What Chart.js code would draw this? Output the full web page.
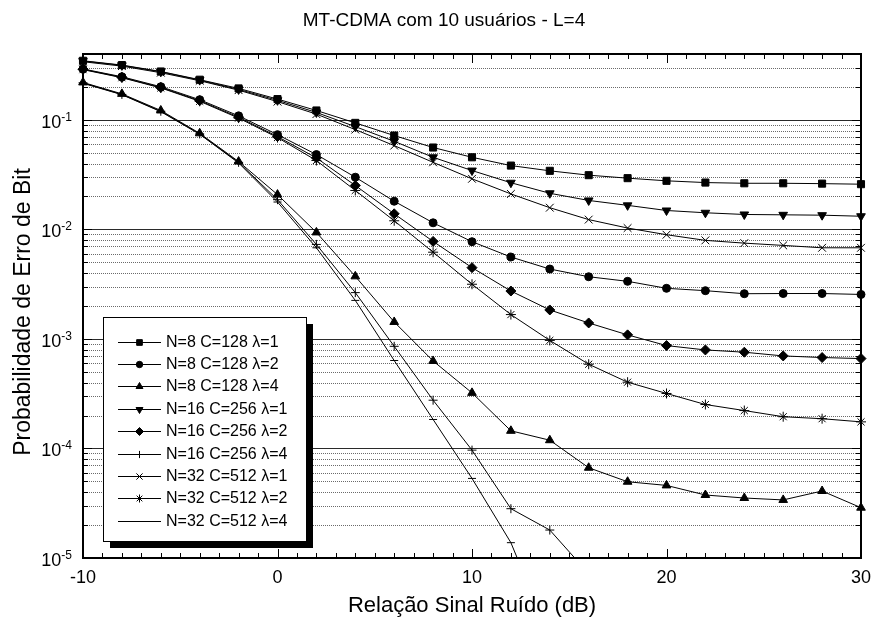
<!DOCTYPE html>
<html>
<head>
<meta charset="utf-8">
<title>MT-CDMA com 10 usuários - L=4</title>
<script src="https://cdn.jsdelivr.net/npm/chart.js@4.4.1/dist/chart.umd.min.js"></script>
<style>
  html, body { margin: 0; padding: 0; background: #fff; }
  #grafico { display: block; }
</style>
</head>
<body>
<canvas id="grafico" width="877" height="623"></canvas>
<script>
// Relação sinal ruído (dB)
const snr = [-10, -8, -6, -4, -2, 0, 2, 4, 6, 8, 10, 12, 14, 16, 18, 20, 22, 24, 26, 28, 30];

const rotulos = [
  'N=8 C=128 λ=1', 'N=8 C=128 λ=2', 'N=8 C=128 λ=4',
  'N=16 C=256 λ=1', 'N=16 C=256 λ=2', 'N=16 C=256 λ=4',
  'N=32 C=512 λ=1', 'N=32 C=512 λ=2', 'N=32 C=512 λ=4'
];

// Probabilidade de erro de bit
const n8l1 = [0.347, 0.317, 0.277, 0.233, 0.194, 0.155, 0.122, 0.094, 0.072, 0.056, 0.0456, 0.0383, 0.0343, 0.0313, 0.0294, 0.0278, 0.0268, 0.0264, 0.0264, 0.0262, 0.0259];
const n8l2 = [0.292, 0.248, 0.201, 0.153, 0.109, 0.0734, 0.0483, 0.030, 0.0181, 0.0115, 0.00773, 0.0056, 0.00435, 0.0037, 0.00336, 0.0029, 0.00276, 0.00259, 0.0026, 0.0026, 0.00255];
const n8l4 = [0.22, 0.173, 0.122, 0.0755, 0.0417, 0.0208, 0.0094, 0.00373, 0.00143, 0.00063, 0.000322, 0.000145, 0.000119, 6.67e-5, 4.97e-5, 4.6e-5, 3.76e-5, 3.53e-5, 3.39e-5, 4.09e-5, 2.88e-5];
const n16l1 = [0.345, 0.315, 0.275, 0.231, 0.19, 0.151, 0.117, 0.0869, 0.0638, 0.0456, 0.0345, 0.0267, 0.0214, 0.0184, 0.0166, 0.0149, 0.0142, 0.0137, 0.0136, 0.0135, 0.0132];
const n16l2 = [0.29, 0.245, 0.198, 0.15, 0.106, 0.0705, 0.045, 0.0252, 0.0139, 0.00778, 0.00448, 0.00274, 0.00184, 0.0014, 0.00109, 0.00087, 0.000794, 0.000757, 0.0007, 0.000677, 0.000662];
const n16l4 = [0.218, 0.171, 0.12, 0.0745, 0.041, 0.0187, 0.0073, 0.00265, 0.000857, 0.000276, 9.66e-5, 2.82e-5, 1.8e-5, 7.2e-6];
const n32l1 = [0.34, 0.31, 0.27, 0.228, 0.187, 0.147, 0.113, 0.0816, 0.0583, 0.041, 0.029, 0.0211, 0.0158, 0.0123, 0.0103, 0.00895, 0.00795, 0.0075, 0.00715, 0.0068, 0.0068];
const n32l2 = [0.288, 0.243, 0.196, 0.148, 0.104, 0.069, 0.0426, 0.0227, 0.012, 0.0062, 0.00316, 0.00167, 0.00097, 0.000588, 0.000403, 0.000318, 0.000252, 0.000222, 0.000195, 0.000187, 0.000175];
const n32l4 = [0.216, 0.17, 0.119, 0.074, 0.0405, 0.0178, 0.0068, 0.00225, 0.000636, 0.000184, 5.33e-5, 1.38e-5, 1.9e-6];

// Ticks dos eixos
const xTicks = [-10, 0, 10, 20, 30];
const yDecadas = [-5, -4, -3, -2, -1];

const FONTE = '"Liberation Sans", Arial, Helvetica, sans-serif';

// marcadores de cada curva
const marcadores = [
  { pointStyle: 'rect', radius: 5, rotation: 0 },
  { pointStyle: 'circle', radius: 4, rotation: 0 },
  { pointStyle: 'triangle', radius: 5, rotation: 0 },
  { pointStyle: 'triangle', radius: 5, rotation: 180 },
  { pointStyle: 'rectRot', radius: 5, rotation: 0 },
  { pointStyle: 'cross', radius: 4.5, rotation: 0 },
  { pointStyle: 'crossRot', radius: 5.5, rotation: 0 },
  { pointStyle: 'star', radius: 5, rotation: 0 },
  { pointStyle: 'line', radius: 4, rotation: 0 }
];

const curvas = [n8l1, n8l2, n8l4, n16l1, n16l2, n16l4, n32l1, n32l2, n32l4];

const datasets = curvas.map((valores, i) => ({
  label: rotulos[i],
  data: valores.map((v, k) => ({ x: snr[k], y: v })),
  borderColor: '#000',
  borderWidth: 1,
  backgroundColor: '#000',
  pointBackgroundColor: '#000',
  pointBorderColor: '#000',
  pointBorderWidth: 1,
  pointStyle: marcadores[i].pointStyle,
  pointRadius: marcadores[i].radius,
  pointRotation: marcadores[i].rotation,
  tension: 0,
  clip: { left: 8, right: 8, top: 8, bottom: 0 }
}));

function linha(ctx, x1, y1, x2, y2) {
  ctx.beginPath();
  ctx.moveTo(x1, y1);
  ctx.lineTo(x2, y2);
  ctx.stroke();
}

// grade, moldura, ticks, textos e legenda
const moldura = {
  id: 'moldura',
  beforeDatasetsDraw(chart) {
    const { ctx, chartArea: a, scales: { y } } = chart;
    ctx.save();
    ctx.lineWidth = 1;
    yDecadas.forEach(e => {
      for (let m = 1; m <= 9; m++) {
        const v = m * Math.pow(10, e);
        if (v > y.max * 1.0001) break;
        const py = Math.round(y.getPixelForValue(v)) + 0.5;
        if (m === 1) {
          ctx.setLineDash([]);
          ctx.strokeStyle = '#2a2a2a';
        } else {
          ctx.setLineDash([1, 1]);
          ctx.strokeStyle = '#6a6a6a';
        }
        linha(ctx, a.left, py, a.right, py);
      }
    });
    ctx.restore();
  },
  afterDatasetsDraw(chart) {
    const { ctx, chartArea: a, scales: { x, y } } = chart;
    ctx.save();
    ctx.strokeStyle = '#000';
    ctx.fillStyle = '#000';

    // ticks para dentro
    ctx.lineWidth = 1;
    for (let v = -10; v <= 30; v++) {
      const px = Math.round(x.getPixelForValue(v)) + 0.5;
      const len = v % 10 === 0 ? 9 : 5;
      linha(ctx, px, a.bottom, px, a.bottom - len);
      linha(ctx, px, a.top, px, a.top + len);
    }
    yDecadas.forEach(e => {
      for (let m = 1; m <= 9; m++) {
        const v = m * Math.pow(10, e);
        if (v > y.max * 1.0001) break;
        const py = Math.round(y.getPixelForValue(v)) + 0.5;
        const len = m === 1 ? 9 : 5;
        linha(ctx, a.left, py, a.left + len, py);
        linha(ctx, a.right, py, a.right - len, py);
      }
    });

    // moldura
    ctx.lineWidth = 2;
    ctx.strokeRect(a.left, a.top, a.right - a.left, a.bottom - a.top);

    // rótulos do eixo x
    ctx.font = '18px ' + FONTE;
    ctx.textAlign = 'center';
    ctx.textBaseline = 'alphabetic';
    xTicks.forEach(v => ctx.fillText(String(v), x.getPixelForValue(v), 583));

    // rótulos do eixo y: 10 com expoente
    yDecadas.forEach(e => {
      const py = y.getPixelForValue(Math.pow(10, e));
      ctx.font = '12px ' + FONTE;
      const exp = String(e);
      const wExp = ctx.measureText(exp).width;
      ctx.textAlign = 'left';
      ctx.fillText(exp, 72 - wExp, py + 1);
      ctx.font = '18px ' + FONTE;
      ctx.textAlign = 'right';
      ctx.fillText('10', 72 - wExp, py + 8);
    });

    // títulos
    ctx.textAlign = 'center';
    ctx.font = '19px ' + FONTE;
    ctx.fillText('MT-CDMA com 10 usuários - L=4', 444, 26);
    ctx.font = '22px ' + FONTE;
    ctx.fillText('Relação Sinal Ruído (dB)', (a.left + a.right) / 2, 612);
    ctx.save();
    ctx.translate(30, 312);
    ctx.rotate(-Math.PI / 2);
    ctx.font = '23px ' + FONTE;
    ctx.fillText('Probabilidade de Erro de Bit', 0, 0);
    ctx.restore();

    // legenda
    const lg = { x: 103, y: 317, w: 203, h: 224, sombra: 7, linha0: 341.5, passo: 22.4 };
    ctx.fillStyle = '#000';
    ctx.fillRect(lg.x + lg.sombra, lg.y + lg.sombra, lg.w, lg.h);
    ctx.fillStyle = '#fff';
    ctx.fillRect(lg.x, lg.y, lg.w, lg.h);
    ctx.lineWidth = 1;
    ctx.strokeStyle = '#000';
    ctx.strokeRect(lg.x + 0.5, lg.y + 0.5, lg.w, lg.h);
    ctx.font = '16px ' + FONTE;
    ctx.textAlign = 'left';
    ctx.textBaseline = 'middle';
    const desenhaPonto = Chart.helpers && Chart.helpers.drawPoint;
    chart.data.datasets.forEach((ds, i) => {
      const cy = Math.round(lg.linha0 + i * lg.passo) + 0.5;
      ctx.strokeStyle = '#000';
      ctx.fillStyle = '#000';
      ctx.lineWidth = 1;
      linha(ctx, 118, cy, 161, cy);
      if (desenhaPonto) {
        desenhaPonto(ctx, {
          pointStyle: marcadores[i].pointStyle,
          rotation: marcadores[i].rotation,
          radius: marcadores[i].radius * 0.8,
          borderWidth: 1
        }, 139.5, cy);
      }
      ctx.fillStyle = '#000';
      ctx.fillText(ds.label, 166, cy);
    });
    ctx.restore();
  }
};

new Chart(document.getElementById('grafico').getContext('2d'), {
  type: 'line',
  data: { datasets: datasets },
  options: {
    responsive: false,
    animation: false,
    devicePixelRatio: 1,
    layout: { padding: { left: 83, top: 54, right: 16, bottom: 65 } },
    plugins: {
      legend: { display: false },
      title: { display: false },
      tooltip: { enabled: false }
    },
    scales: {
      x: { type: 'linear', min: -10, max: 30, display: false },
      y: { type: 'logarithmic', min: 1e-5, max: 0.4, display: false }
    }
  },
  plugins: [moldura]
});
</script>
</body>
</html>
